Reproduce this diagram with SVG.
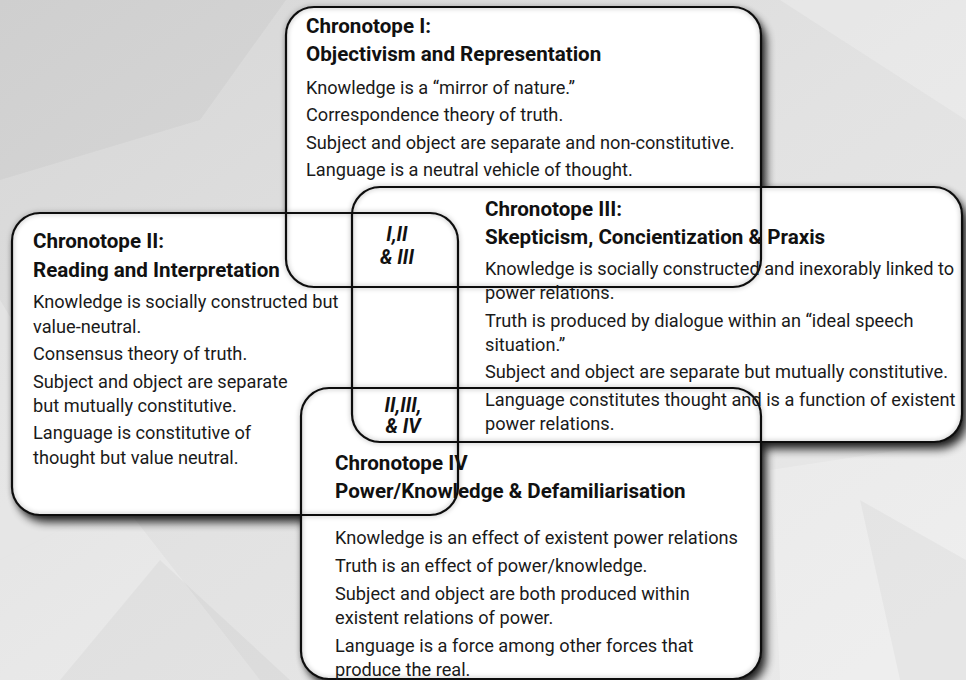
<svg xmlns="http://www.w3.org/2000/svg" xmlns:xlink="http://www.w3.org/1999/xlink" width="966" height="680" viewBox="0 0 966 680">
  <style>
    .body { font-family: Roboto, "Liberation Sans", sans-serif; font-size: 18.2px; fill: #1a1a1a; }
    .head { font-family: Roboto, "Liberation Sans", sans-serif; font-size: 20.6px; font-weight: bold; fill: #111; }
    .tag  { font-family: Roboto, "Liberation Sans", sans-serif; font-size: 19.5px; font-weight: bold; font-style: italic; fill: #111; text-anchor: middle; }
    .outline { fill: none; stroke: #111; stroke-width: 2.2; }
    .panel { fill: #ffffff; }
    .cast { fill: #000; }
  </style>
  <defs>
    <linearGradient id="bg" x1="0" y1="0" x2="1" y2="1">
      <stop offset="0" stop-color="#d6d6d6"/>
      <stop offset="0.5" stop-color="#e2e2e2"/>
      <stop offset="1" stop-color="#eaeaea"/>
    </linearGradient>
    <filter id="soft" x="-10%" y="-10%" width="130%" height="130%">
      <feGaussianBlur stdDeviation="5"/>
    </filter>
    <filter id="glow" x="-5%" y="-5%" width="110%" height="110%">
      <feDropShadow dx="0" dy="0" stdDeviation="2.5" flood-color="#000" flood-opacity="0.35"/>
    </filter>
    <!-- panel outlines -->
    <rect id="box-1" x="286" y="7" width="475" height="280" rx="28"/>
    <rect id="box-2" x="12" y="213" width="446" height="302" rx="28"/>
    <rect id="box-3" x="352" y="187" width="610" height="255" rx="28"/>
    <rect id="box-4" x="301" y="388" width="460" height="291" rx="28"/>
  </defs>

  <!-- backdrop with faint facets -->
  <rect width="966" height="680" fill="url(#bg)"/>
  <g fill="#fff" opacity="0.22">
    <polygon points="0,560 120,500 260,680 0,680"/>
    <polygon points="0,300 0,560 120,500"/>
    <polygon points="780,0 966,0 966,120"/>
    <polygon points="770,470 966,440 966,680 780,680"/>
  </g>
  <g fill="#000" opacity="0.03">
    <polygon points="0,0 286,0 200,120 0,180"/>
    <polygon points="60,680 160,560 290,680"/>
    <polygon points="860,500 966,560 966,680 900,680"/>
  </g>

  <!-- cast shadows of all panels -->
  <g id="panel-shadows" filter="url(#soft)" opacity="0.85" transform="translate(5,7)">
    <use xlink:href="#box-1" class="cast"/>
    <use xlink:href="#box-2" class="cast"/>
    <use xlink:href="#box-3" class="cast"/>
    <use xlink:href="#box-4" class="cast"/>
  </g>

  <!-- white panel faces -->
  <g id="panel-faces">
    <use xlink:href="#box-1" class="panel"/>
    <use xlink:href="#box-2" class="panel"/>
    <use xlink:href="#box-3" class="panel"/>
    <use xlink:href="#box-4" class="panel"/>
  </g>

  <!-- outlines drawn over every face so overlaps stay readable -->
  <g id="panel-outlines" filter="url(#glow)">
    <use xlink:href="#box-1" class="outline"/>
    <use xlink:href="#box-2" class="outline"/>
    <use xlink:href="#box-3" class="outline"/>
    <use xlink:href="#box-4" class="outline"/>
  </g>

  <g id="chronotope-1">
    <text class="head" x="306" y="33">Chronotope I:</text>
    <text class="head" x="306" y="61">Objectivism and Representation</text>
    <text class="body" x="306" y="94">Knowledge is a “mirror of nature.”</text>
    <text class="body" x="306" y="121">Correspondence theory of truth.</text>
    <text class="body" x="306" y="149">Subject and object are separate and non-constitutive.</text>
    <text class="body" x="306" y="176">Language is a neutral vehicle of thought.</text>
  </g>

  <g id="chronotope-2">
    <text class="head" x="33" y="248">Chronotope II:</text>
    <text class="head" x="33" y="277">Reading and Interpretation</text>
    <text class="body" x="33" y="308">Knowledge is socially constructed but</text>
    <text class="body" x="33" y="333">value-neutral.</text>
    <text class="body" x="33" y="360">Consensus theory of truth.</text>
    <text class="body" x="33" y="388">Subject and object are separate</text>
    <text class="body" x="33" y="412">but mutually constitutive.</text>
    <text class="body" x="33" y="439">Language is constitutive of</text>
    <text class="body" x="33" y="464">thought but value neutral.</text>
  </g>

  <g id="chronotope-3">
    <text class="head" x="485" y="216">Chronotope III:</text>
    <text class="head" x="485" y="244">Skepticism, Concientization &amp; Praxis</text>
    <text class="body" x="485" y="275">Knowledge is socially constructed and inexorably linked to</text>
    <text class="body" x="485" y="299">power relations.</text>
    <text class="body" x="485" y="327">Truth is produced by dialogue within an “ideal speech</text>
    <text class="body" x="485" y="351">situation.”</text>
    <text class="body" x="485" y="378">Subject and object are separate but mutually constitutive.</text>
    <text class="body" x="485" y="406">Language constitutes thought and is a function of existent</text>
    <text class="body" x="485" y="430">power relations.</text>
  </g>

  <g id="chronotope-4">
    <text class="head" x="335" y="470">Chronotope IV</text>
    <text class="head" x="335" y="498">Power/Knowledge &amp; Defamiliarisation</text>
    <text class="body" x="335" y="544">Knowledge is an effect of existent power relations</text>
    <text class="body" x="335" y="572">Truth is an effect of power/knowledge.</text>
    <text class="body" x="335" y="600">Subject and object are both produced within</text>
    <text class="body" x="335" y="624">existent relations of power.</text>
    <text class="body" x="335" y="652">Language is a force among other forces that</text>
    <text class="body" x="335" y="676">produce the real.</text>
  </g>

  <g id="overlap-1-2-3">
    <text class="tag" x="397" y="241">I,II</text>
    <text class="tag" x="397" y="264">&amp; III</text>
  </g>

  <g id="overlap-2-3-4">
    <text class="tag" x="403" y="412">II,III,</text>
    <text class="tag" x="403" y="433">&amp; IV</text>
  </g>
</svg>
